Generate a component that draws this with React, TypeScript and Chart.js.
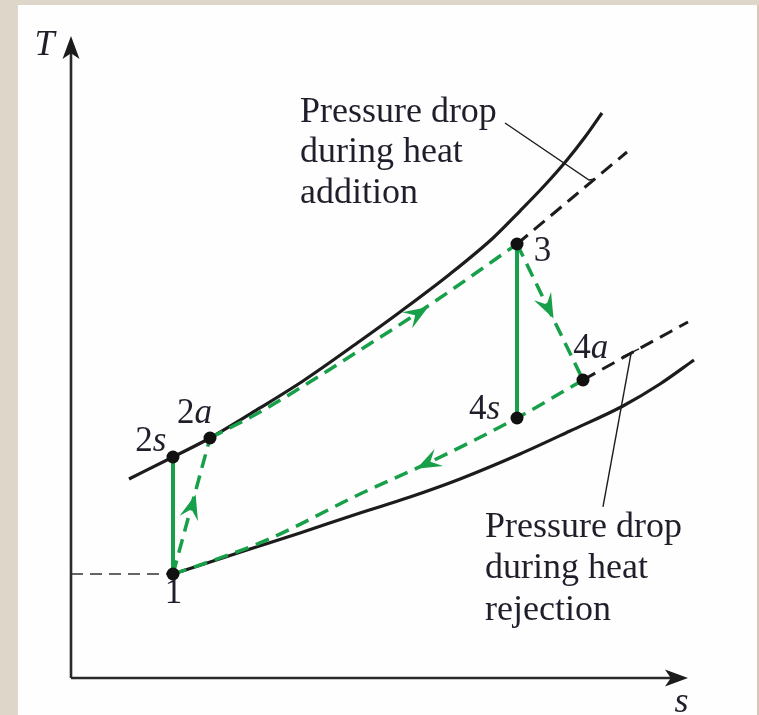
import { useEffect, useRef } from "react";
import { Chart, registerables } from "chart.js";

Chart.register(...registerables);

const WIDTH = 759;
const HEIGHT = 715;

// Cycle state points (entropy s, temperature T, diagram units)
const stateNames = ["1", "2s", "2a", "3", "4s", "4a"];
const stateS = [1.653, 1.653, 2.253, 7.229, 7.229, 8.298];
const stateT = [1.62, 3.442, 3.738, 6.76, 4.05, 4.642];

// State label anchors (left edge, baseline)
const labelS = [1.52, 1.04, 1.72, 7.5, 6.45, 8.14];
const labelT = [1.17, 3.54, 3.97, 6.5, 4.03, 4.98];

// High-pressure isobar (solid)
const highIsobarS = [0.94, 1.653, 2.253, 3.063, 3.76, 4.684, 5.332, 6.143, 6.84, 7.277, 7.682, 8.039, 8.331, 8.606];
const highIsobarT = [3.1, 3.442, 3.738, 4.206, 4.626, 5.249, 5.701, 6.293, 6.854, 7.274, 7.679, 8.069, 8.427, 8.801];
// Reduced pressure at turbine inlet (dashed)
const highDropS = [7.229, 8.12, 9.011];
const highDropT = [6.76, 7.477, 8.193];
// Low-pressure isobar (solid)
const lowIsobarS = [1.653, 2.901, 3.712, 4.684, 5.494, 6.305, 7.277, 8.087, 8.946, 9.546, 10.097];
const lowIsobarT = [1.62, 2.009, 2.259, 2.57, 2.819, 3.1, 3.489, 3.847, 4.237, 4.579, 4.953];
// Raised pressure at turbine exit (dashed)
const lowDropS = [8.298, 9.141, 10.0];
const lowDropT = [4.642, 5.093, 5.545];

// Actual heat addition 2a -> 3
const heatAddS = [2.253, 3.063, 3.922, 4.684, 5.494, 6.143, 7.229];
const heatAddT = [3.738, 4.143, 4.642, 5.109, 5.607, 6.028, 6.76];
// Actual heat rejection 4a -> 1 (stored left to right)
const heatRejS = [1.653, 2.091, 3.177, 4.684, 5.818, 7.229, 8.298];
const heatRejT = [1.62, 1.76, 2.15, 2.866, 3.364, 4.05, 4.642];

// Flow-direction arrowheads: from a point behind the head to its tip
const arrowFromS = [1.653, 4.684, 7.229, 7.229];
const arrowFromT = [1.62, 5.109, 6.76, 4.05];
const arrowTipS = [2.02, 5.79, 7.82, 5.6];
const arrowTipT = [2.86, 5.78, 5.6, 3.26];

// Callouts
const upperNote = ["Pressure drop", "during heat", "addition"];
const upperNoteS = 3.71;
const upperNoteT = [8.66, 8.04, 7.4];
const lowerNote = ["Pressure drop", "during heat", "rejection"];
const lowerNoteS = 6.71;
const lowerNoteT = [2.2, 1.56, 0.9];
const upperLeaderS = [7.034, 8.395, 8.493];
const upperLeaderT = [8.645, 7.757, 7.773];
const lowerLeaderS = [8.622, 9.076];
const lowerLeaderT = [2.664, 5.047];
const lowerHookS = [8.93, 9.206];
const lowerHookT = [5.0, 5.125];

const GREEN = "#17a049";
const INK = "#1c1c1c";
const TEXT = "#1f1f2b";
const SERIF = '"Liberation Serif", "DejaVu Serif", serif';

const pts = (xs: number[], ys: number[]) => xs.map((x, i) => ({ x, y: ys[i] }));
const seg = (i: number, j: number) => [
  { x: stateS[i], y: stateT[i] },
  { x: stateS[j], y: stateT[j] },
];

function arrowHead(
  ctx: CanvasRenderingContext2D,
  x0: number,
  y0: number,
  x1: number,
  y1: number,
  len: number,
  half: number,
  notch: number,
  color: string
) {
  const dx = x1 - x0;
  const dy = y1 - y0;
  const m = Math.hypot(dx, dy) || 1;
  const ux = dx / m;
  const uy = dy / m;
  const nx = -uy;
  const ny = ux;
  ctx.fillStyle = color;
  ctx.beginPath();
  ctx.moveTo(x1, y1);
  ctx.lineTo(x1 - ux * len + nx * half, y1 - uy * len + ny * half);
  ctx.lineTo(x1 - ux * len * notch, y1 - uy * len * notch);
  ctx.lineTo(x1 - ux * len - nx * half, y1 - uy * len - ny * half);
  ctx.closePath();
  ctx.fill();
}

// Digits upright, letters italic (e.g. "2s", "4a")
function drawSymbol(ctx: CanvasRenderingContext2D, text: string, x: number, y: number, size: number) {
  let cx = x;
  for (const ch of text) {
    ctx.font = /[a-zA-Z]/.test(ch) ? `italic ${size}px ${SERIF}` : `${size}px ${SERIF}`;
    ctx.fillText(ch, cx, y);
    cx += ctx.measureText(ch).width;
  }
}

const decorPlugin = {
  id: "tsDecor",
  beforeDraw(chart: any) {
    const { ctx } = chart;
    ctx.save();
    ctx.fillStyle = "#ded6c8";
    ctx.fillRect(0, 0, WIDTH, HEIGHT);
    ctx.fillStyle = "#fefefe";
    ctx.fillRect(18, 5, 740, HEIGHT - 5);
    ctx.fillStyle = "#d9c7ba";
    ctx.fillRect(757, 5, 2, HEIGHT - 5);
    ctx.restore();
  },
  afterDatasetsDraw(chart: any) {
    const { ctx } = chart;
    const xs = chart.scales.x;
    const ys = chart.scales.y;
    const px = (v: number) => xs.getPixelForValue(v);
    const py = (v: number) => ys.getPixelForValue(v);
    ctx.save();

    // axis arrowheads
    arrowHead(ctx, px(0), py(9), px(0), py(10), 23, 8.5, 0.75, INK);
    arrowHead(ctx, px(9), py(0), px(10), py(0), 23, 8.5, 0.75, INK);

    // flow arrowheads
    arrowTipS.forEach((s, i) => {
      arrowHead(ctx, px(arrowFromS[i]), py(arrowFromT[i]), px(s), py(arrowTipT[i]), 25, 9.5, 0.62, GREEN);
    });

    ctx.fillStyle = TEXT;
    ctx.textBaseline = "alphabetic";
    ctx.textAlign = "left";

    // axis titles
    ctx.font = `italic 36px ${SERIF}`;
    ctx.fillText("T", px(-0.59), py(9.7));
    ctx.fillText("s", px(9.78), py(-0.53));

    // state labels
    stateNames.forEach((n, i) => drawSymbol(ctx, n, px(labelS[i]), py(labelT[i]), 35));

    // callout text
    ctx.font = `36px ${SERIF}`;
    upperNote.forEach((line, i) => ctx.fillText(line, px(upperNoteS), py(upperNoteT[i])));
    lowerNote.forEach((line, i) => ctx.fillText(line, px(lowerNoteS), py(lowerNoteT[i])));

    ctx.restore();
  },
};

export default function App() {
  const canvasRef = useRef<HTMLCanvasElement | null>(null);

  useEffect(() => {
    const canvas = canvasRef.current;
    if (!canvas) return;

    const curve = (data: any[], color: string, width: number, order: number) => ({
      data,
      showLine: true,
      borderColor: color,
      borderWidth: width,
      pointRadius: 0,
      cubicInterpolationMode: "monotone" as const,
      clip: false as const,
      order,
    });
    const dashed = (data: any[], color: string, width: number, dash: number[], order: number) => ({
      ...curve(data, color, width, order),
      borderDash: dash,
    });
    const straight = (data: any[], color: string, width: number, order: number) => ({
      ...curve(data, color, width, order),
      cubicInterpolationMode: "default" as const,
      tension: 0,
    });

    const chart = new Chart(canvas, {
      type: "scatter",
      data: {
        datasets: [
          // state points
          {
            data: pts(stateS, stateT),
            pointRadius: 6.5,
            pointBackgroundColor: "#111",
            pointBorderWidth: 0,
            showLine: false,
            clip: false,
            order: 0,
          } as any,
          // isentropic compression / expansion
          straight(seg(0, 1), GREEN, 4, 1),
          straight(seg(3, 4), GREEN, 4, 1),
          // actual processes
          { ...straight(seg(0, 2), GREEN, 3.5, 1), borderDash: [14, 8] },
          { ...straight(seg(3, 5), GREEN, 3.5, 1), borderDash: [14, 8] },
          dashed(pts(heatAddS, heatAddT), GREEN, 3.5, [14, 8], 1),
          dashed(pts(heatRejS, heatRejT), GREEN, 3.5, [14, 8], 1),
          // isobars
          curve(pts(highIsobarS, highIsobarT), INK, 3.2, 2),
          dashed(pts(highDropS, highDropT), INK, 3, [14, 8], 2),
          curve(pts(lowIsobarS, lowIsobarT), INK, 3.2, 2),
          dashed(pts(lowDropS, lowDropT), INK, 3, [14, 8], 2),
          // T1 reference line to the axis
          { ...straight([{ x: 0, y: stateT[0] }, { x: stateS[0], y: stateT[0] }], "#333", 1.6, 3), borderDash: [12, 7] },
          // callout leaders
          straight(pts(upperLeaderS, upperLeaderT), INK, 1.4, 3),
          straight(pts(lowerLeaderS, lowerLeaderT), INK, 1.4, 3),
          straight(pts(lowerHookS, lowerHookT), INK, 1.4, 3),
          // axes
          straight([{ x: 0, y: 0 }, { x: 9.8, y: 0 }], "#2a2a2a", 2.6, 4),
          straight([{ x: 0, y: 0 }, { x: 0, y: 9.8 }], "#2a2a2a", 2.6, 4),
        ],
      },
      options: {
        responsive: false,
        animation: false,
        devicePixelRatio: 1,
        layout: { padding: { left: 71, right: 71, top: 36, bottom: 37 } },
        scales: {
          x: { type: "linear", min: 0, max: 10, display: false },
          y: { type: "linear", min: 0, max: 10, display: false },
        },
        plugins: {
          legend: { display: false },
          tooltip: { enabled: false },
        },
        events: [],
      },
      plugins: [decorPlugin],
    });

    return () => chart.destroy();
  }, []);

  return (
    <div style={{ position: "fixed", left: 0, top: 0, width: WIDTH, height: HEIGHT }}>
      <canvas ref={canvasRef} width={WIDTH} height={HEIGHT} style={{ display: "block" }} />
    </div>
  );
}
